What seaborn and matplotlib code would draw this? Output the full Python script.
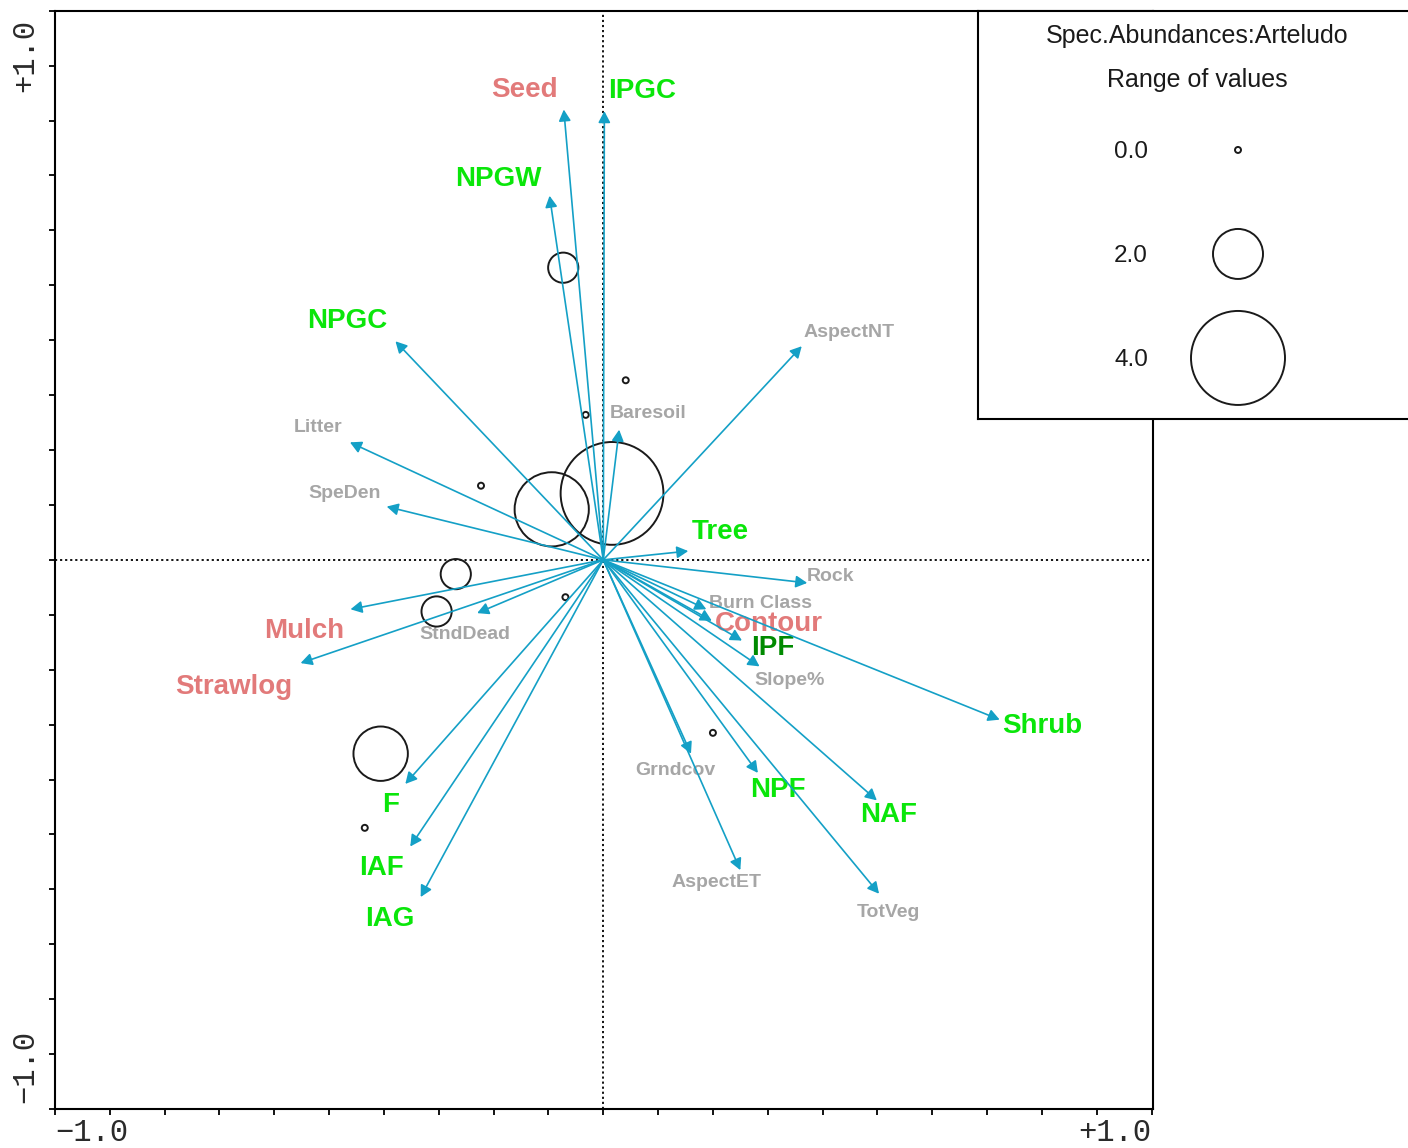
import numpy as np
import pandas as pd
import matplotlib
matplotlib.use("Agg")
import matplotlib.pyplot as plt
import seaborn as sns

# ---- biplot arrows: explanatory / supplementary variables -----------------
var_names = ["Seed", "IPGC", "NPGW", "NPGC", "AspectNT", "Baresoil", "Litter",
             "SpeDen", "Tree", "Rock", "Burn Class", "Contour", "IPF", "Slope%",
             "Shrub", "Grndcov", "NPF", "NAF", "AspectET", "TotVeg", "Mulch",
             "StndDead", "Strawlog", "F", "IAF", "IAG"]
var_ax1 = [-0.072, 0.002, -0.098, -0.379, 0.362, 0.029, -0.462,
           -0.395, 0.155, 0.372, 0.188, 0.198, 0.253, 0.285,
           0.723, 0.160, 0.282, 0.499, 0.250, 0.503, -0.461,
           -0.230, -0.552, -0.361, -0.352, -0.333]
var_ax2 = [0.820, 0.817, 0.663, 0.398, 0.389, 0.237, 0.214,
           0.097, 0.016, -0.042, -0.090, -0.111, -0.147, -0.194,
           -0.291, -0.353, -0.388, -0.438, -0.565, -0.608, -0.090,
           -0.097, -0.188, -0.408, -0.522, -0.614]
var_group = ["treatment", "cover", "cover", "cover", "site", "site", "site",
             "site", "cover", "site", "site", "treatment", "cover_ipf", "site",
             "cover", "site", "cover", "cover", "site", "site", "treatment",
             "site", "treatment", "cover", "cover", "cover"]

# ---- samples: scores and abundance of Arteludo ----------------------------
samp_ax1 = [-0.073, 0.041, -0.032, -0.223, 0.016, -0.094, -0.269, -0.304,
            -0.069, -0.406, -0.435, 0.200]
samp_ax2 = [0.532, 0.327, 0.264, 0.135, 0.121, 0.092, -0.026, -0.094,
            -0.068, -0.353, -0.488, -0.315]
samp_abund = [1.1, 0.0, 0.0, 0.0, 4.4, 3.1, 1.1, 1.1, 0.0, 2.2, 0.0, 0.0]

legend_values = [0.0, 2.0, 4.0]
legend_title = "Spec.Abundances:Arteludo"
legend_subtitle = "Range of values"

# ---- styling -------------------------------------------------------------
sns.set_style("white")
plt.rcParams["font.family"] = ["Liberation Sans", "DejaVu Sans"]

DPI = 100
ARROW_COLOR = "#14a0c6"
group_style = {
    "treatment": dict(color="#e27a7a", fontsize=20, fontweight="bold"),
    "cover": dict(color="#0ae60a", fontsize=20, fontweight="bold"),
    "cover_ipf": dict(color="#008a00", fontsize=20, fontweight="bold"),
    "site": dict(color="#a6a6a6", fontsize=14, fontweight="bold"),
}
# label placement relative to arrow tip, in pixels (x right, y up)
label_offset = {
    "Seed": (-39, 20), "IPGC": (38, 20), "NPGW": (-51, 17), "NPGC": (-48, 20),
    "AspectNT": (47, 14), "Baresoil": (29, 16), "Litter": (-32, 15),
    "SpeDen": (-42, 13), "Tree": (32, 19), "Rock": (23, 6),
    "Burn Class": (54, 6), "Contour": (57, -3), "IPF": (31, -7),
    "Slope%": (30, -14), "Shrub": (43, -6), "Grndcov": (-16, -17),
    "NPF": (20, -17), "NAF": (12, -15), "AspectET": (-24, -12),
    "TotVeg": (9, -19), "Mulch": (-46, -22), "StndDead": (-12, -21),
    "Strawlog": (-67, -24), "F": (-15, -21), "IAF": (-29, -21),
    "IAG": (-31, -22),
}


def bubble_area(v):
    """Marker area (pt^2) for an abundance value: radius grows linearly."""
    radius_px = 3.0 + 11.0 * v
    diam_pt = 2.0 * radius_px * 72.0 / DPI
    return diam_pt ** 2


fig = plt.figure(figsize=(1408 / DPI, 1148 / DPI), dpi=DPI)
fig.patch.set_facecolor("white")

W, H = 1408.0, 1148.0
ax = fig.add_axes([55 / W, 1 - 1109 / H, 1098 / W, 1098.3 / H])
ax.set_xlim(-0.9973, 1.0027)
ax.set_ylim(-1.0, 1.0)

# origin cross
ax.axhline(0, color="black", lw=1.3, ls=(0, (1.2, 1.6)), zorder=1)
ax.axvline(0, color="black", lw=1.3, ls=(0, (1.2, 1.6)), zorder=1)

# sample bubbles
samples = pd.DataFrame({"ax1": samp_ax1, "ax2": samp_ax2, "abund": samp_abund})
size_map = {v: bubble_area(v) for v in sorted(set(samp_abund))}
sns.scatterplot(data=samples, x="ax1", y="ax2", size="abund", sizes=size_map,
                marker="o", facecolors="none", edgecolor="#1a1a1a",
                linewidth=1.4, legend=False, ax=ax, zorder=3)

# variable arrows and their labels
variables = pd.DataFrame({"name": var_names, "ax1": var_ax1, "ax2": var_ax2,
                          "group": var_group})
for row in variables.itertuples():
    ax.annotate("", xy=(row.ax1, row.ax2), xytext=(0, 0),
                arrowprops=dict(arrowstyle="-|>,head_length=0.34,head_width=0.18",
                                color=ARROW_COLOR, lw=1.2, shrinkA=0, shrinkB=0,
                                mutation_scale=20),
                zorder=4)
    st = group_style[row.group]
    ax.annotate(row.name, xy=(row.ax1, row.ax2), xytext=label_offset[row.name],
                textcoords="offset pixels", ha="center", va="center",
                zorder=2, **st)

# frame, ticks and end labels
for side in ["left", "bottom", "right", "top"]:
    ax.spines[side].set_visible(True)
    ax.spines[side].set_color("black")
    ax.spines[side].set_linewidth(1.5)
ticks = np.round(np.arange(-1.0, 1.0001, 0.1), 1)
ax.set_xticks(ticks)
ax.set_yticks(ticks)
ax.set_xticklabels([])
ax.set_yticklabels([])
ax.tick_params(axis="both", which="both", direction="out", length=4, width=1.3,
               color="black", bottom=True, left=True, top=False, right=False)
ax.set_xlabel("")
ax.set_ylabel("")

mono = dict(family=["Liberation Mono", "DejaVu Sans Mono"], fontsize=22,
            color="#2a2a2a")
ax.annotate("\u22121.0", xy=(0, 0), xycoords="axes fraction", xytext=(0, -24),
            textcoords="offset pixels", ha="left", va="center", **mono)
ax.annotate("+1.0", xy=(1, 0), xycoords="axes fraction", xytext=(-2, -24),
            textcoords="offset pixels", ha="right", va="center", **mono)
ax.annotate("+1.0", xy=(0, 1), xycoords="axes fraction", xytext=(-30, -8),
            textcoords="offset pixels", ha="center", va="top", rotation=90, **mono)
ax.annotate("\u22121.0", xy=(0, 0), xycoords="axes fraction", xytext=(-30, 6),
            textcoords="offset pixels", ha="center", va="bottom", rotation=90, **mono)

# ---- abundance legend box --------------------------------------------------
lg = fig.add_axes([978 / W, 1 - 419 / H, 460 / W, 408.3 / H], zorder=10)
lg.set_facecolor("white")
for side in ["left", "bottom", "right", "top"]:
    lg.spines[side].set_visible(True)
    lg.spines[side].set_color("black")
    lg.spines[side].set_linewidth(1.5)
lg.set_xticks([])
lg.set_yticks([])
# rows are indexed 0..n-1, one legend value per row
lg.set_xlim(0, 460)
lg.set_ylim(2.587, -1.339)

leg_df = pd.DataFrame({"row": np.arange(len(legend_values)),
                       "x": np.full(len(legend_values), 260.0),
                       "value": legend_values})
sns.scatterplot(data=leg_df, x="x", y="row", size="value",
                sizes={v: bubble_area(v) for v in legend_values},
                marker="o", facecolors="none", edgecolor="#1a1a1a",
                linewidth=1.4, legend=False, ax=lg, zorder=3)
lg.set_xlabel("")
lg.set_ylabel("")
for r, v in enumerate(legend_values):
    lg.text(153, r + 0.02, f"{v:.1f}", ha="center", va="center", fontsize=17.5,
            color="#1a1a1a")
lg.text(219, -1.095, legend_title, ha="center", va="center", fontsize=18,
        color="#1a1a1a")
lg.text(219, -0.672, legend_subtitle, ha="center", va="center", fontsize=18,
        color="#1a1a1a")

fig.savefig("out.png", dpi=DPI, facecolor="white")
